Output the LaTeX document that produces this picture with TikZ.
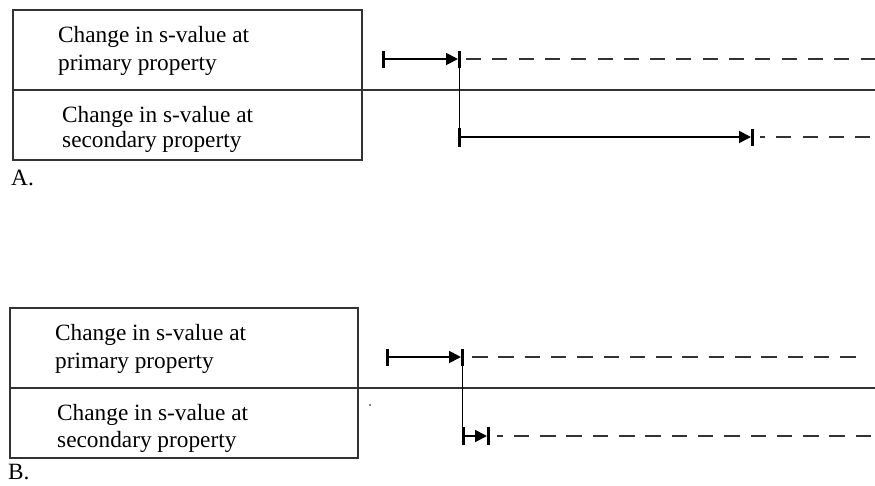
\documentclass[tikz,border=0pt]{standalone}
\usepackage{fontspec}
\setmainfont{Liberation Serif}
\usetikzlibrary{arrows.meta}
\begin{document}
\begin{tikzpicture}[x=1pt,y=-1pt,
  frame/.style={line width=2pt,draw=black!80},
  tickmark/.style={line width=3pt},
  flow/.style={line width=1.8pt,-{Triangle[length=12pt,width=12pt]},shorten >=1.5pt},
  joinline/.style={line width=1.8pt},
  cont/.style={line width=2pt,draw=black!80,dash pattern=on 15pt off 11.3pt},
  lbl/.style={anchor=north west,inner sep=0pt,align=left,font=\fontsize{23.3}{27}\selectfont},
  tag/.style={anchor=base west,inner sep=0pt,font=\fontsize{23.3}{27}\selectfont}]
\useasboundingbox (0,0) rectangle (875,485);
% ---------- Panel A ----------
\draw[frame] (13,10) rectangle (362,160);
\draw[frame] (13,90) -- (875,90);
\node[lbl] (tA1) at (58,25.8) {Change in s-value at\\[1pt]primary property};
\node[lbl] (tA2) at (62,105.8) {Change in s-value at\\[-2pt]secondary property};
\node[tag] (labA) at (11,185) {A.};
\coordinate (a1s) at (383.5,59);
\coordinate (a1e) at (459.5,59);
\coordinate (a2s) at (459.5,137);
\coordinate (a2e) at (752.5,137);
\coordinate (a1x) at (875,59);
\coordinate (a2x) at (875,137);
\draw[tickmark] ([yshift=8.5pt]a1s) -- ([yshift=-8.5pt]a1s);
\draw[tickmark] ([yshift=8.5pt]a1e) -- ([yshift=-8.5pt]a1e);
\draw[tickmark] ([yshift=9.5pt]a2s) -- ([yshift=-9.5pt]a2s);
\draw[tickmark] ([yshift=8.5pt]a2e) -- ([yshift=-8.5pt]a2e);
\draw[flow] (a1s) -- (a1e);
\draw[joinline] (a1e) -- (a2s);
\draw[flow] (a2s) -- (a2e);
\draw[cont] ([xshift=6.5pt]a1e) -- (a1x);
\draw[cont,dash phase=10pt] ([xshift=7.5pt]a2e) -- (a2x);
% ---------- Panel B ----------
\draw[frame] (10,308) rectangle (358,458);
\draw[frame] (10,388) -- (875,388);
\node[lbl] (tB1) at (55,324.1) {Change in s-value at\\[1pt]primary property};
\node[lbl] (tB2) at (57,404.1) {Change in s-value at\\secondary property};
\node[tag] (labB) at (8,479) {B.};
\coordinate (b1s) at (387.5,357);
\coordinate (b1e) at (462.5,357);
\coordinate (b2s) at (463.5,436);
\coordinate (b2e) at (488.5,436);
\coordinate (b1x) at (856,357);
\coordinate (b2x) at (871,436);
\draw[tickmark] ([yshift=8.5pt]b1s) -- ([yshift=-8.5pt]b1s);
\draw[tickmark] ([yshift=8.5pt]b1e) -- ([yshift=-8.5pt]b1e);
\draw[tickmark] ([yshift=9pt]b2s) -- ([yshift=-9pt]b2s);
\draw[tickmark] ([yshift=9pt]b2e) -- ([yshift=-9pt]b2e);
\draw[flow] (b1s) -- (b1e);
\draw[joinline] (b1e) -- ([yshift=-9pt]b1e |- b2s);
\draw[flow] (b2s) -- (b2e);
\draw[cont,dash pattern=on 15.5pt off 10.8pt] ([xshift=9.5pt]b1e) -- (b1x);
\draw[cont,dash pattern=on 15.5pt off 10.8pt,dash phase=9.5pt] ([xshift=8.5pt]b2e) -- (b2x);
\fill (370,405) circle (0.8pt);
\end{tikzpicture}
\end{document}
